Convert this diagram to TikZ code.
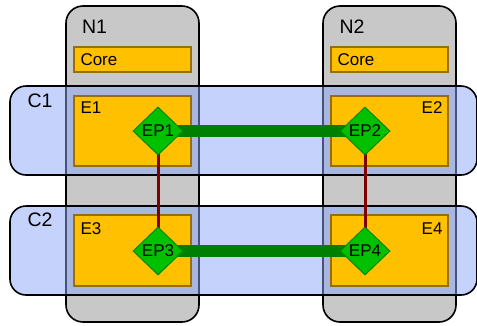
\documentclass[tikz,border=0pt]{standalone}
\usepackage{fontspec}
\setmainfont{Liberation Sans}
\usetikzlibrary{shapes.geometric}
\pgfdeclarelayer{base}
\pgfdeclarelayer{links}
\pgfsetlayers{base,links,main}
\definecolor{nodegray}{RGB}{200,200,200}
\definecolor{clusterblue}{RGB}{139,165,247}
\definecolor{unitfill}{RGB}{255,192,0}
\definecolor{unitedge}{RGB}{150,110,10}
\definecolor{epfill}{RGB}{0,192,0}
\definecolor{epedge}{RGB}{0,135,0}
\definecolor{linkgreen}{RGB}{0,128,0}
\definecolor{linkred}{RGB}{128,0,0}
\tikzset{
  bigfont/.style={font=\fontsize{19.5bp}{21bp}\selectfont},
  smallfont/.style={font=\fontsize{17bp}{19bp}\selectfont},
  hostbox/.style={draw=black, line width=1.6bp, fill=nodegray, rounded corners=17bp,
    minimum width=133bp, minimum height=316bp, inner sep=0pt},
  clusterbox/.style={draw=black, line width=1.6bp, fill=clusterblue, fill opacity=0.5,
    draw opacity=1, rounded corners=16bp, minimum width=467bp, minimum height=89bp, inner sep=0pt},
  unitbox/.style={draw=unitedge, line width=1.6bp, fill=unitfill, minimum width=117bp, inner sep=0pt},
  epbox/.style={diamond, draw=epedge, line width=1bp, fill=epfill, minimum width=50bp,
    minimum height=48bp, inner sep=0pt, smallfont},
  greenlink/.style={draw=linkgreen, line width=12bp},
  redlink/.style={draw=linkred, line width=3bp},
}
\begin{document}
\begin{tikzpicture}[x=1bp, y=-1bp]
\useasboundingbox (0,0) rectangle (477,325);
\begin{pgfonlayer}{base}
% hosts
\node[hostbox] (N1) at (132.5,164) {};
\node[hostbox] (N2) at (389.5,164) {};
\node[bigfont] (N1l) at (94.5,27) {N1};
\node[bigfont] (N2l) at (352,27) {N2};
% cores
\node[unitbox, minimum height=25bp] (core1) at (132.5,59.5) {};
\node[unitbox, minimum height=25bp] (core2) at (389.5,59.5) {};
\node[smallfont, anchor=west] (core1l) at (77,60) {Core};
\node[smallfont, anchor=west] (core2l) at (334,60) {Core};
% clusters
\node[clusterbox] (C1) at (243.5,130.5) {};
\node[clusterbox] (C2) at (243.5,250.5) {};
\node[bigfont] (C1l) at (40,101) {C1};
\node[bigfont] (C2l) at (40,220) {C2};
% execution units
\node[unitbox, minimum height=70bp] (E1) at (132.5,131) {};
\node[unitbox, minimum height=70bp] (E2) at (389.5,131) {};
\node[unitbox, minimum height=71bp] (E3) at (132.5,250.5) {};
\node[unitbox, minimum height=71bp] (E4) at (389.5,250.5) {};
\node[smallfont, anchor=west] (E1l) at (77,108) {E1};
\node[smallfont, anchor=east] (E2l) at (446,108) {E2};
\node[smallfont, anchor=west] (E3l) at (77,228.5) {E3};
\node[smallfont, anchor=east] (E4l) at (446,228.5) {E4};
\end{pgfonlayer}
% endpoints
\node[epbox] (EP1) at (158,131) {EP1};
\node[epbox] (EP2) at (365,131) {EP2};
\node[epbox] (EP3) at (158,251) {EP3};
\node[epbox] (EP4) at (365,251) {EP4};
\begin{pgfonlayer}{links}
\draw[greenlink] (EP1.center) -- (EP2.center);
\draw[greenlink] (EP3.center) -- (EP4.center);
\draw[redlink] (EP1.center) -- (EP3.center);
\draw[redlink] (EP2.center) -- (EP4.center);
\end{pgfonlayer}
\end{tikzpicture}
\end{document}
